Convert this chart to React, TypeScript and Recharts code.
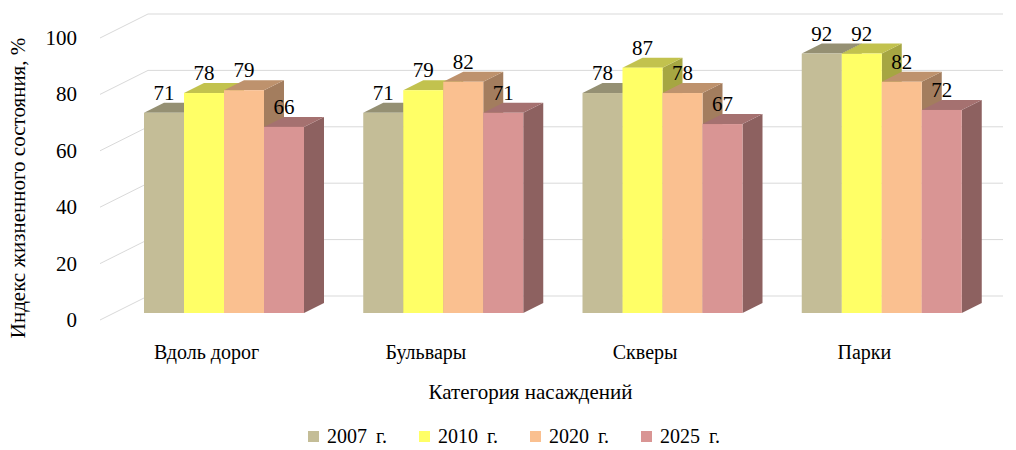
import React from "react";
import { Bar, BarChart, CartesianGrid, LabelList, Legend, XAxis, YAxis } from "recharts";

const categories = ["Вдоль дорог", "Бульвары", "Скверы", "Парки"];
const years = ["2007 г.", "2010 г.", "2020 г.", "2025 г."];
const v2007 = [71, 71, 78, 92];
const v2010 = [78, 79, 87, 92];
const v2020 = [79, 82, 78, 82];
const v2025 = [66, 71, 67, 72];
const yTicks = [0, 20, 40, 60, 80, 100];

const colors = ["#C4BD97", "#FFFF66", "#FAC090", "#D99594"];
const keys = ["y2007", "y2010", "y2020", "y2025"];

const data = categories.map((name, i) => ({
  name,
  y2007: v2007[i],
  y2010: v2010[i],
  y2020: v2020[i],
  y2025: v2025[i],
}));

const FONT = "Liberation Serif";
// depth of the bar boxes
const DX = 20;
const DY = 10;

const css = `
#chart-root, #chart-root *, #chart-root svg text, #chart-root div, #chart-root span {
  font-family: "Liberation Serif", "Times New Roman", serif !important;
}`;

function shade(hex: string, k: number) {
  const n = parseInt(hex.slice(1), 16);
  const r = Math.round(((n >> 16) & 255) * k);
  const g = Math.round(((n >> 8) & 255) * k);
  const b = Math.round((n & 255) * k);
  return `rgb(${r},${g},${b})`;
}

const boxShape = (color: string) => (p: any) => {
  const { x, y, width: w, height: h } = p;
  if (h == null || w == null) return <g />;
  const top = `${x},${y} ${x + w},${y} ${x + w + DX},${y - DY} ${x + DX},${y - DY}`;
  const side = `${x + w},${y} ${x + w + DX},${y - DY} ${x + w + DX},${y + h - DY} ${x + w},${y + h}`;
  return (
    <g>
      <polygon points={side} fill={shade(color, 0.65)} />
      <polygon points={top} fill={shade(color, 0.76)} />
      <rect x={x} y={y} width={w} height={h} fill={color} />
    </g>
  );
};

const gridLine = (p: any) => {
  const { x1, x2, y1 } = p;
  return (
    <polyline
      key={`g-${y1}`}
      points={`${x1 - 14},${y1 + 7} ${x1 + 34},${y1 - 17} ${x2 + 12},${y1 - 17}`}
      fill="none"
      stroke="#D9D9D9"
      strokeWidth={1}
    />
  );
};

const YTick = (p: any) => (
  <text x={77} y={p.y + 7} textAnchor="end" dominantBaseline="central" fontSize={21} fontFamily={FONT} fill="#000">
    {p.payload.value}
  </text>
);

const XTick = (p: any) => (
  <text x={p.x - 17} y={352} textAnchor="middle" dominantBaseline="central" fontSize={20} fontFamily={FONT} fill="#000">
    {p.payload.value}
  </text>
);

const valueLabel = (p: any) => (
  <text
    x={p.x + p.width / 2}
    y={p.y - 20}
    textAnchor="middle"
    dominantBaseline="central"
    fontSize={21}
    fontFamily={FONT}
    fill="#000"
  >
    {p.value}
  </text>
);

const LegendBox = () => (
  <div style={{ display: "flex", fontFamily: FONT, fontSize: 20, color: "#000" }}>
    {years.map((y, i) => (
      <div key={y} style={{ width: 111, display: "flex", alignItems: "center" }}>
        <span style={{ width: 11, height: 11, background: colors[i], marginRight: 8, display: "inline-block" }} />
        <span style={{ wordSpacing: 4 }}>{y}</span>
      </div>
    ))}
  </div>
);

export default function App() {
  return (
    <div
      id="chart-root"
      style={{ position: "absolute", left: 0, top: 0, width: 1016, height: 450, background: "#fff", fontFamily: FONT }}
    >
      <style>{css}</style>
      <BarChart
        width={1016}
        height={450}
        data={data}
        margin={{ top: 31, right: 25, left: 0, bottom: 0 }}
        barGap={0}
        barSize={40}
      >
        <CartesianGrid horizontal={gridLine} vertical={false} />
        <XAxis
          dataKey="name"
          height={137}
          axisLine={false}
          tickLine={false}
          tick={XTick}
          label={{
            content: (lp: any) => {
              const vb = lp.viewBox;
              return (
                <text
                  x={vb.x + vb.width / 2 - 22}
                  y={392}
                  textAnchor="middle"
                  dominantBaseline="central"
                  fontSize={21}
                  fontFamily={FONT}
                  fill="#000"
                >
                  Категория насаждений
                </text>
              );
            },
          }}
        />
        <YAxis
          width={114}
          domain={[0, 100]}
          ticks={yTicks}
          axisLine={false}
          tickLine={false}
          tick={YTick}
          label={{
            content: (lp: any) => {
              const vb = lp.viewBox;
              const cy = vb.y + vb.height / 2 + 16;
              return (
                <text
                  x={18}
                  y={cy}
                  transform={`rotate(-90, 18, ${cy})`}
                  textAnchor="middle"
                  dominantBaseline="central"
                  fontSize={21}
                  fontFamily={FONT}
                  fill="#000"
                >
                  Индекс жизненного состояния, %
                </text>
              );
            },
          }}
        />
        <Legend
          layout="horizontal"
          verticalAlign="middle"
          align="center"
          content={<LegendBox />}
          wrapperStyle={{ position: "absolute", left: 308, top: 425, width: 460, height: 24 }}
        />
        {keys.map((k, i) => (
          <Bar key={k} dataKey={k} name={years[i]} fill={colors[i]} shape={boxShape(colors[i])} isAnimationActive={false}>
            <LabelList dataKey={k} content={valueLabel} />
          </Bar>
        ))}
      </BarChart>
    </div>
  );
}
